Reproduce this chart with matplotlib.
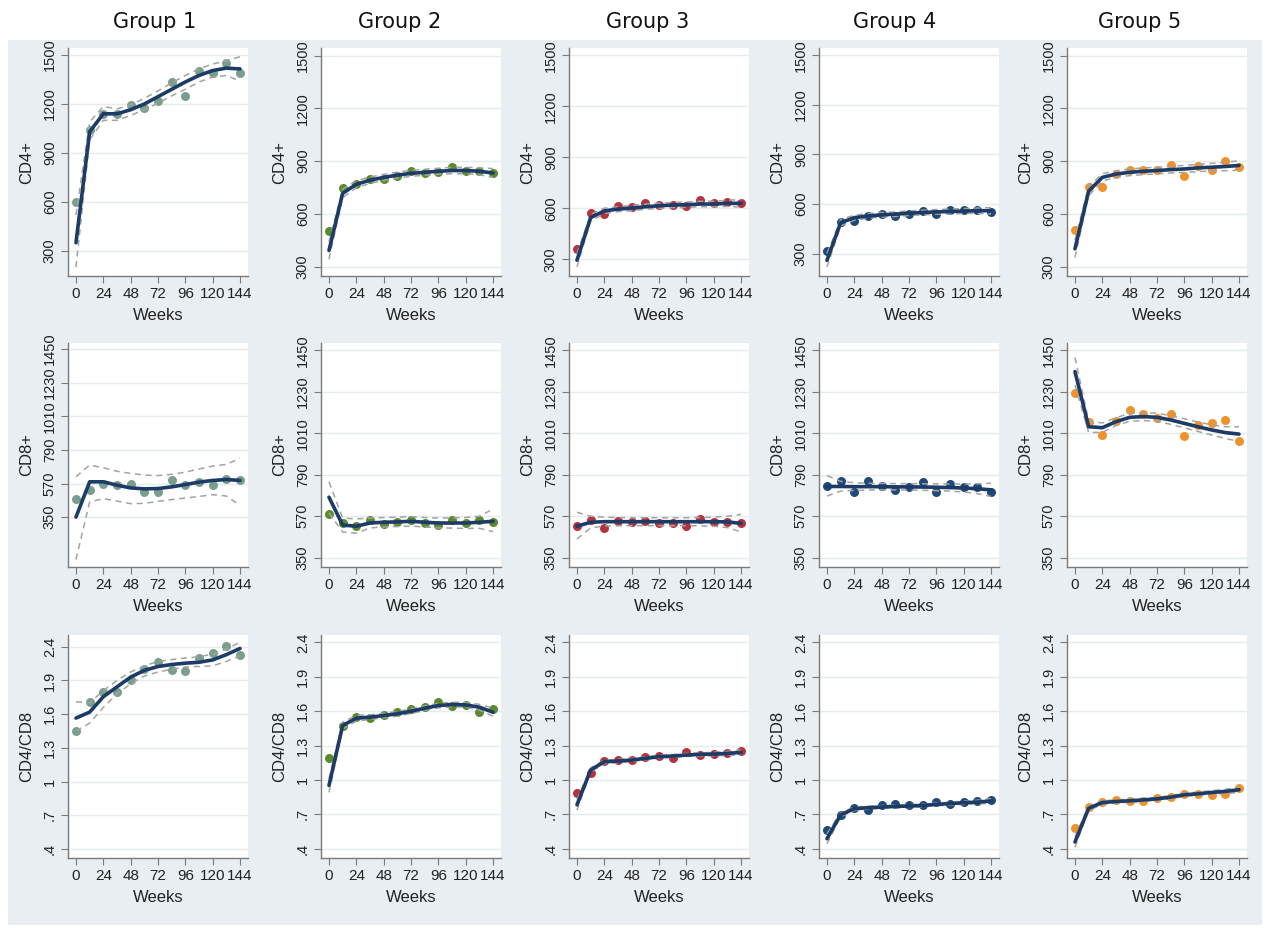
import numpy as np
import matplotlib.pyplot as plt
from matplotlib.patches import Rectangle

# semanas de seguimiento
weeks = [0, 12, 24, 36, 48, 60, 72, 84, 96, 108, 120, 132, 144]
groups = ['Group 1', 'Group 2', 'Group 3', 'Group 4', 'Group 5']
dot_colors = ['#7a9e8c', '#5b8a2c', '#b5323d', '#1f4a78', '#f0922c']

# CD4+ (observado, ajuste, IC superior, IC inferior) por grupo
cd4_obs = [
    [598, 1039, 1137, 1137, 1196, 1175, 1217, 1336, 1252, 1401, 1391, 1454, 1389],
    [501, 749, 772, 797, 797, 817, 842, 832, 836, 865, 842, 842, 830],
    [362, 576, 570, 616, 610, 630, 622, 622, 616, 652, 632, 640, 630],
    [314, 492, 496, 527, 538, 527, 538, 559, 542, 563, 563, 563, 552],
    [507, 755, 755, 826, 850, 850, 850, 875, 817, 869, 851, 900, 865],
]
cd4_fit = [
    [350, 1030, 1140, 1140, 1165, 1200, 1245, 1290, 1335, 1375, 1405, 1420, 1415],
    [391, 716, 768, 791, 807, 820, 830, 836, 842, 846, 846, 842, 832],
    [296, 546, 586, 596, 602, 610, 616, 620, 622, 626, 626, 630, 630],
    [259, 486, 517, 527, 534, 538, 544, 548, 552, 554, 557, 559, 559],
    [401, 729, 807, 826, 836, 842, 846, 851, 855, 861, 865, 869, 875],
]
cd4_hi = [
    [520, 1090, 1185, 1170, 1195, 1235, 1280, 1330, 1375, 1415, 1445, 1465, 1490],
    [440, 740, 788, 809, 824, 837, 847, 853, 859, 864, 864, 862, 857],
    [335, 566, 602, 611, 617, 625, 631, 635, 638, 642, 643, 648, 652],
    [300, 505, 532, 541, 548, 552, 558, 562, 566, 569, 572, 575, 578],
    [450, 755, 828, 845, 855, 861, 865, 870, 875, 882, 887, 893, 902],
]
cd4_lo = [
    [200, 980, 1100, 1100, 1130, 1165, 1205, 1250, 1290, 1335, 1365, 1375, 1340],
    [342, 692, 748, 773, 790, 803, 813, 819, 825, 828, 828, 822, 807],
    [257, 526, 570, 581, 587, 595, 601, 605, 606, 610, 609, 612, 608],
    [218, 467, 502, 513, 520, 524, 530, 534, 538, 539, 542, 543, 540],
    [352, 703, 786, 807, 817, 823, 827, 832, 835, 840, 843, 845, 848],
]

# CD8+
cd8_obs = [
    [471, 530, 570, 563, 568, 513, 513, 592, 559, 581, 559, 601, 592],
    [582, 534, 517, 549, 529, 538, 549, 534, 526, 552, 534, 549, 540],
    [520, 552, 508, 543, 538, 543, 534, 534, 520, 556, 541, 541, 534],
    [728, 755, 701, 755, 728, 710, 724, 751, 698, 739, 724, 724, 701],
    [1225, 1072, 1001, 1077, 1134, 1113, 1090, 1113, 998, 1054, 1067, 1081, 971],
]
cd8_fit = [
    [350, 581, 581, 559, 541, 535, 537, 548, 563, 579, 590, 596, 590],
    [671, 523, 517, 534, 538, 540, 543, 538, 534, 534, 534, 538, 543],
    [517, 538, 541, 541, 541, 541, 541, 541, 541, 541, 541, 540, 532],
    [728, 728, 727, 727, 727, 726, 726, 725, 724, 722, 720, 716, 710],
    [1338, 1045, 1040, 1072, 1095, 1099, 1095, 1081, 1063, 1045, 1028, 1014, 1006],
]
cd8_hi = [
    [614, 691, 673, 650, 636, 625, 622, 630, 644, 665, 684, 695, 735],
    [753, 560, 556, 560, 563, 565, 568, 563, 560, 561, 563, 570, 608],
    [591, 570, 565, 563, 562, 562, 562, 562, 562, 563, 565, 570, 580],
    [786, 755, 748, 745, 744, 743, 743, 742, 742, 741, 741, 742, 745],
    [1413, 1075, 1065, 1093, 1116, 1120, 1117, 1104, 1087, 1070, 1055, 1045, 1045],
]
cd8_lo = [
    [73, 449, 471, 455, 438, 440, 453, 465, 475, 485, 497, 488, 427],
    [588, 486, 480, 508, 513, 515, 518, 513, 508, 507, 505, 506, 488],
    [449, 508, 518, 519, 520, 520, 520, 520, 520, 519, 517, 510, 487],
    [677, 703, 707, 709, 710, 710, 709, 708, 706, 703, 699, 690, 675],
    [1267, 1015, 1015, 1051, 1074, 1078, 1073, 1058, 1039, 1020, 1001, 983, 967],
]

# CD4/CD8
ratio_obs = [
    [1.454, 1.705, 1.793, 1.799, 1.901, 2.004, 2.068, 1.995, 1.980, 2.100, 2.144, 2.209, 2.127],
    [1.19, 1.475, 1.548, 1.542, 1.568, 1.591, 1.62, 1.635, 1.678, 1.641, 1.655, 1.597, 1.62],
    [0.89, 1.058, 1.168, 1.174, 1.174, 1.197, 1.212, 1.194, 1.241, 1.217, 1.223, 1.232, 1.255],
    [0.561, 0.691, 0.758, 0.735, 0.778, 0.793, 0.784, 0.778, 0.807, 0.793, 0.807, 0.812, 0.826],
    [0.585, 0.768, 0.806, 0.821, 0.818, 0.818, 0.841, 0.85, 0.876, 0.879, 0.865, 0.879, 0.929],
]
ratio_fit = [
    [1.565, 1.618, 1.755, 1.843, 1.93, 1.99, 2.024, 2.042, 2.054, 2.062, 2.083, 2.13, 2.185],
    [0.952, 1.475, 1.539, 1.548, 1.562, 1.577, 1.6, 1.626, 1.649, 1.658, 1.655, 1.635, 1.591],
    [0.783, 1.087, 1.159, 1.165, 1.174, 1.188, 1.203, 1.209, 1.217, 1.223, 1.226, 1.232, 1.24],
    [0.487, 0.697, 0.749, 0.758, 0.764, 0.769, 0.772, 0.778, 0.787, 0.793, 0.801, 0.807, 0.816],
    [0.459, 0.753, 0.803, 0.812, 0.818, 0.826, 0.835, 0.85, 0.871, 0.879, 0.891, 0.9, 0.915],
]
ratio_hi = [
    [1.71, 1.70, 1.81, 1.90, 1.975, 2.03, 2.07, 2.085, 2.10, 2.11, 2.135, 2.18, 2.24],
    [1.012, 1.505, 1.564, 1.568, 1.582, 1.597, 1.62, 1.646, 1.669, 1.678, 1.675, 1.66, 1.626],
    [0.83, 1.105, 1.175, 1.18, 1.188, 1.2, 1.215, 1.222, 1.23, 1.237, 1.241, 1.249, 1.262],
    [0.53, 0.715, 0.764, 0.771, 0.776, 0.781, 0.784, 0.79, 0.799, 0.806, 0.815, 0.822, 0.836],
    [0.505, 0.773, 0.819, 0.826, 0.831, 0.839, 0.849, 0.864, 0.885, 0.894, 0.907, 0.918, 0.938],
]
ratio_lo = [
    [1.45, 1.52, 1.66, 1.78, 1.87, 1.94, 1.975, 2.00, 2.02, 2.025, 2.03, 2.07, 2.12],
    [0.892, 1.445, 1.514, 1.528, 1.542, 1.557, 1.58, 1.606, 1.629, 1.638, 1.635, 1.61, 1.556],
    [0.736, 1.069, 1.143, 1.15, 1.16, 1.176, 1.191, 1.196, 1.204, 1.209, 1.211, 1.215, 1.218],
    [0.444, 0.679, 0.734, 0.745, 0.752, 0.757, 0.76, 0.766, 0.775, 0.78, 0.787, 0.792, 0.796],
    [0.413, 0.733, 0.787, 0.798, 0.805, 0.813, 0.821, 0.836, 0.857, 0.864, 0.875, 0.882, 0.892],
]

# ejes y de cada fila
cd4_ticks = [300, 600, 900, 1200, 1500]
cd4_labels = ['300', '600', '900', '1200', '1500']
cd8_ticks = [350, 570, 790, 1010, 1230, 1450]
cd8_labels = ['350', '570', '790', '1010', '1230', '1450']
ratio_ticks = [0.4, 0.7, 1.0, 1.3, 1.6, 1.9, 2.2]
ratio_labels = ['.4', '.7', '1', '1.3', '1.6', '1.9', '2.4']
x_ticks = [0, 24, 48, 72, 96, 120, 144]

rows = [
    ('CD4+', cd4_obs, cd4_fit, cd4_hi, cd4_lo, cd4_ticks, cd4_labels),
    ('CD8+', cd8_obs, cd8_fit, cd8_hi, cd8_lo, cd8_ticks, cd8_labels),
    ('CD4/CD8', ratio_obs, ratio_fit, ratio_hi, ratio_lo, ratio_ticks, ratio_labels),
]

plt.rcParams['font.family'] = ['Liberation Sans', 'DejaVu Sans']

W, H = 1267, 930
fig = plt.figure(figsize=(W / 100, H / 100), dpi=100)
fig.patch.set_facecolor('white')

# fondo gris azulado del panel
fig.patches.append(Rectangle((8 / W, 5 / H), 1254 / W, 885 / H, transform=fig.transFigure,
                             facecolor='#e8eef2', edgecolor='none', zorder=-5))

col_left = [68, 321, 569, 819, 1067]
col_w = 180
row_top = [48, 343, 635]
row_h = [228, 224, 223]
title_x = [155, 400, 648, 895, 1140]

for j, g in enumerate(groups):
    fig.text(title_x[j] / W, 1 - 22 / H, g, ha='center', va='center', fontsize=15,
             family='DejaVu Sans', color='#111111')

for i, (ylab, obs, fit, hi, lo, yt, ytl) in enumerate(rows):
    for j in range(5):
        ax = fig.add_axes([col_left[j] / W, 1 - (row_top[i] + row_h[i]) / H, col_w / W, row_h[i] / H])
        ax.set_zorder(2)
        ax.set_facecolor('white')
        ax.scatter(weeks, obs[j], s=42, color=dot_colors[j], zorder=3, linewidths=0)
        ax.plot(weeks, hi[j], ls=(0, (4, 3)), color='#a3a3a3', lw=1.1, zorder=4)
        ax.plot(weeks, lo[j], ls=(0, (4, 3)), color='#a3a3a3', lw=1.1, zorder=4)
        ax.plot(weeks, fit[j], color='#1c3b66', lw=2.6, zorder=5, solid_capstyle='round')

        span = yt[-1] - yt[0]
        m = 0.045 * span
        ymin = min(yt[0], min(lo[j]), min(obs[j]))
        ymax = max(yt[-1], max(hi[j]), max(obs[j]))
        ax.set_ylim(ymin - m, ymax + m * 0.8)
        ax.set_xlim(-7, 151)

        ax.set_yticks(yt)
        ax.set_yticklabels(ytl, rotation=90, va='center', fontsize=10.5)
        ax.set_xticks(x_ticks)
        ax.grid(axis='y', color='#e4ecef', lw=1.0, zorder=0)
        ax.set_axisbelow(True)
        for s in ['top', 'right']:
            ax.spines[s].set_visible(False)
        for s in ['left', 'bottom']:
            ax.spines[s].set_color('#7a7a7a')
            ax.spines[s].set_linewidth(1.0)
        ax.tick_params(direction='out', length=5, color='#7a7a7a', labelcolor='#222222', pad=3)
        ax.tick_params(axis='x', labelsize=11)
        ax.set_ylabel(ylab, fontsize=12, color='#222222', labelpad=6)
        ax.set_xlabel('Weeks', fontsize=12, color='#222222', labelpad=5)

fig.savefig('out.png', dpi=100)
